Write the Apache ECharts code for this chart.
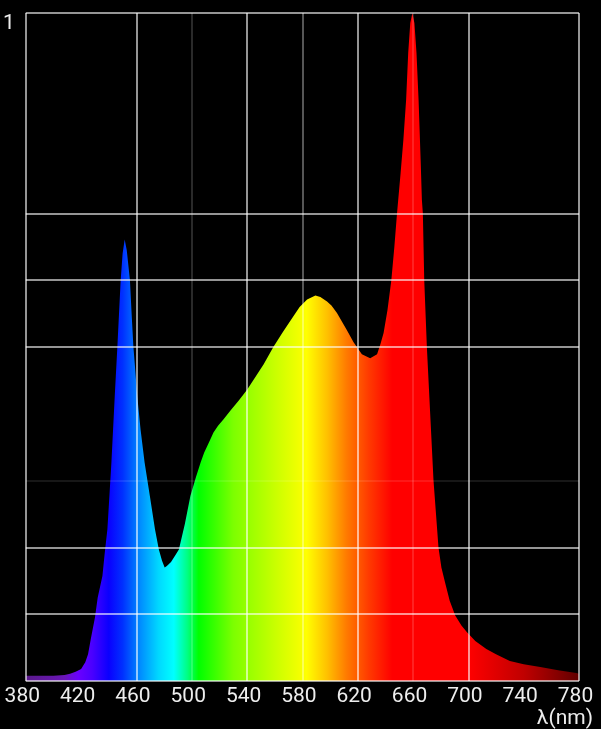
<!DOCTYPE html>
<html>
<head>
<meta charset="utf-8">
<script src="https://cdn.jsdelivr.net/npm/echarts@6/dist/echarts.min.js"></script>
<style>
html,body{margin:0;padding:0;background:#000;}
#chart{width:601px;height:729px;}
</style>
</head>
<body>
<div id="chart"></div>
<script>
// Wavelengths (nm) and relative intensity
var wavelengths = [380,390,400,408,412,416,420,423,425,427,430,432,435.4,437,439,441.9,444.3,446.2,448.6,450,451.5,453,455.3,456.5,457.8,458.9,460.6,463,465.9,469.7,473.4,476.2,478.5,480.4,482,485,488,490.7,495,499,503,506.4,509,512.4,515.7,519,523,528,534,540,546,552,559,566,573.5,578,583.4,589.4,593,597.8,601,605,612,617,623,629,634,636.5,638.7,641.5,644.3,646.5,648.4,651,653,655,656.5,658,659.5,661,662.5,664,665.5,666.4,667.1,668.1,670,672.4,674.8,678.4,680.5,683.2,686.5,690.5,695,699,705,713,720,730,740,752,765,778,780];
var intensity   = [0.008,0.008,0.008,0.009,0.011,0.014,0.018,0.028,0.040,0.063,0.095,0.125,0.157,0.19,0.227,0.327,0.426,0.50,0.60,0.64,0.661,0.645,0.60,0.55,0.50,0.472,0.426,0.376,0.327,0.277,0.227,0.197,0.18,0.170,0.172,0.178,0.188,0.197,0.235,0.277,0.305,0.327,0.342,0.357,0.372,0.382,0.392,0.405,0.42,0.436,0.455,0.474,0.50,0.523,0.546,0.56,0.571,0.577,0.575,0.568,0.562,0.551,0.526,0.507,0.489,0.483,0.489,0.505,0.521,0.555,0.60,0.65,0.70,0.76,0.81,0.87,0.94,0.985,1.0,0.985,0.94,0.87,0.78,0.72,0.70,0.60,0.50,0.40,0.30,0.20,0.17,0.147,0.12,0.098,0.083,0.073,0.06,0.048,0.04,0.030,0.025,0.021,0.016,0.012,0.011];

// Tick labels
var xTickLabels = ['380','420','460','500','540','580','620','660','700','740','780'];
var yTickLabels = ['1'];
var xName = 'λ(nm)';

// Spectrum colour stops (wavelength -> colour)
var stopWavelengths = [380,408,418,428,440,450,462,476,487,497,505,530,560,583,598,612,628,645,700,740,780];
var stopColors = ['#5a1a8a','#6a16b8','#6a00ff','#4a00ff','#0a00ff','#0030ff','#0088ff','#00d8ff','#00ffff','#00ff80','#00ff00','#7cff00','#c8ff00','#ffff00','#ffc000','#ff7a00','#ff3a00','#ff0000','#ff0000','#c00000','#600000'];

var bright = 'rgba(255,255,255,0.78)';
var none = 'rgba(255,255,255,0)';
var xLineColors = [bright, none, bright, 'rgba(255,255,255,0.22)', bright, 'rgba(255,255,255,0.45)', bright, 'rgba(255,255,255,0.18)', bright, none, bright];
var yLineColors = [bright, bright, bright, 'rgba(255,255,255,0.12)', none, bright, bright, bright, none, none, bright];

var seriesData = wavelengths.map(function (w, i) { return [w, intensity[i]]; });
var xMin = wavelengths[0], xMax = wavelengths[wavelengths.length - 1];
var colorStops = stopWavelengths.map(function (w, i) {
  return { offset: (w - xMin) / (xMax - xMin), color: stopColors[i] };
});

var chart = echarts.init(document.getElementById('chart'));
chart.setOption({
  backgroundColor: '#000',
  animation: false,
  grid: { left: 25, right: 22, top: 13, bottom: 47, containLabel: false },
  xAxis: {
    type: 'value', min: 380, max: 780, interval: 40, z: 10,
    axisLine: { show: false },
    axisTick: { show: false },
    splitLine: { show: true, lineStyle: { color: xLineColors, width: 1.5 } },
    axisLabel: {
      color: '#ededed', fontSize: 21, fontFamily: 'Roboto', margin: 5,
      padding: [0, 7, 0, 0],
      formatter: function (v) {
        var s = String(Math.round(v));
        return xTickLabels.indexOf(s) >= 0 ? s : '';
      }
    },
    name: xName, nameLocation: 'end', nameGap: 14,
    nameTextStyle: { color: '#ededed', fontSize: 21, fontFamily: 'Roboto', align: 'right', verticalAlign: 'top', padding: [27, 0, 0, 0] }
  },
  yAxis: {
    type: 'value', min: 0, max: 1, interval: 0.1, z: 10,
    axisLine: { show: false },
    axisTick: { show: false },
    splitLine: { show: true, lineStyle: { color: yLineColors, width: 1.5 } },
    axisLabel: {
      color: '#ededed', fontSize: 21, fontFamily: 'Roboto', margin: 11, verticalAlign: 'top',
      formatter: function (v) { return Math.abs(v - 1) < 1e-9 ? yTickLabels[0] : ''; }
    }
  },
  series: [{
    type: 'line',
    data: seriesData,
    symbol: 'none',
    smooth: false,
    lineStyle: { width: 0 },
    areaStyle: {
      opacity: 1,
      color: new echarts.graphic.LinearGradient(0, 0, 1, 0, colorStops)
    },
    z: 2
  }]
});
</script>
</body>
</html>
